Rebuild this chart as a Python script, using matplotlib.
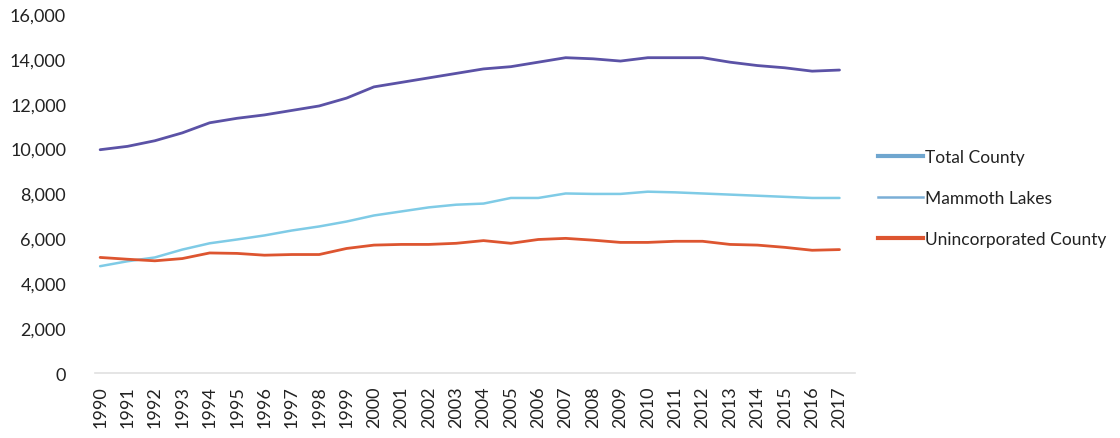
import matplotlib
matplotlib.use("Agg")
import matplotlib.pyplot as plt
from matplotlib.lines import Line2D
from matplotlib.ticker import FuncFormatter

plt.rcParams['font.family'] = ['Lato', 'DejaVu Sans']

years = list(range(1990, 2018))
year_labels = [str(y) for y in years]

total_county = [9950, 10100, 10350, 10700, 11150, 11350, 11500, 11700, 11900, 12250,
                12750, 12950, 13150, 13350, 13550, 13650, 13850, 14050, 14000, 13900,
                14050, 14050, 14050, 13850, 13700, 13600, 13450, 13500]
mammoth_lakes = [4760, 4980, 5150, 5500, 5780, 5950, 6130, 6350, 6530, 6750,
                 7020, 7200, 7380, 7500, 7550, 7800, 7800, 8000, 7980, 7980,
                 8080, 8050, 8000, 7950, 7900, 7850, 7800, 7800]
unincorporated = [5150, 5070, 5000, 5100, 5350, 5330, 5250, 5280, 5280, 5550,
                  5700, 5730, 5730, 5780, 5900, 5780, 5950, 6000, 5920, 5820,
                  5820, 5870, 5870, 5730, 5700, 5600, 5470, 5500]

series_names = ["Total County", "Mammoth Lakes", "Unincorporated County"]
y_ticks = [0, 2000, 4000, 6000, 8000, 10000, 12000, 14000, 16000]

fig = plt.figure(figsize=(11.2, 4.39), dpi=100)
ax = fig.add_axes([0.085, 0.148, 0.678, 0.818])

ax.plot(years, total_county, color="#5b52a6", lw=2.0, solid_capstyle="round")
ax.plot(years, mammoth_lakes, color="#7fcbe6", lw=1.8, solid_capstyle="round")
ax.plot(years, unincorporated, color="#dd5530", lw=2.0, solid_capstyle="round")

ax.set_ylim(0, 16000)
ax.set_xlim(1989.82, 2017.55)
ax.set_yticks(y_ticks)
ax.yaxis.set_major_formatter(FuncFormatter(lambda v, p: f"{int(v):,}"))
ax.set_xticks(years)
ax.set_xticklabels(year_labels, rotation=90)
ax.tick_params(axis='both', length=0, labelsize=13, colors="#222222")
ax.tick_params(axis='y', pad=21)
ax.tick_params(axis='x', pad=9)

for side in ("top", "right", "left"):
    ax.spines[side].set_visible(False)
ax.spines["bottom"].set_color("#e0e0e0")
ax.spines["bottom"].set_linewidth(1.2)

handles = [
    Line2D([], [], color="#6fa6cf", lw=3.0),
    Line2D([], [], color="#7aaed6", lw=1.8),
    Line2D([], [], color="#dd5530", lw=3.0),
]
fig.legend(handles, series_names, loc="center left", bbox_to_anchor=(0.77, 0.547),
           frameon=False, handlelength=2.6, handletextpad=0.1, labelspacing=1.45,
           fontsize=12.5, labelcolor="#222222")

fig.savefig("out.png", dpi=100)
